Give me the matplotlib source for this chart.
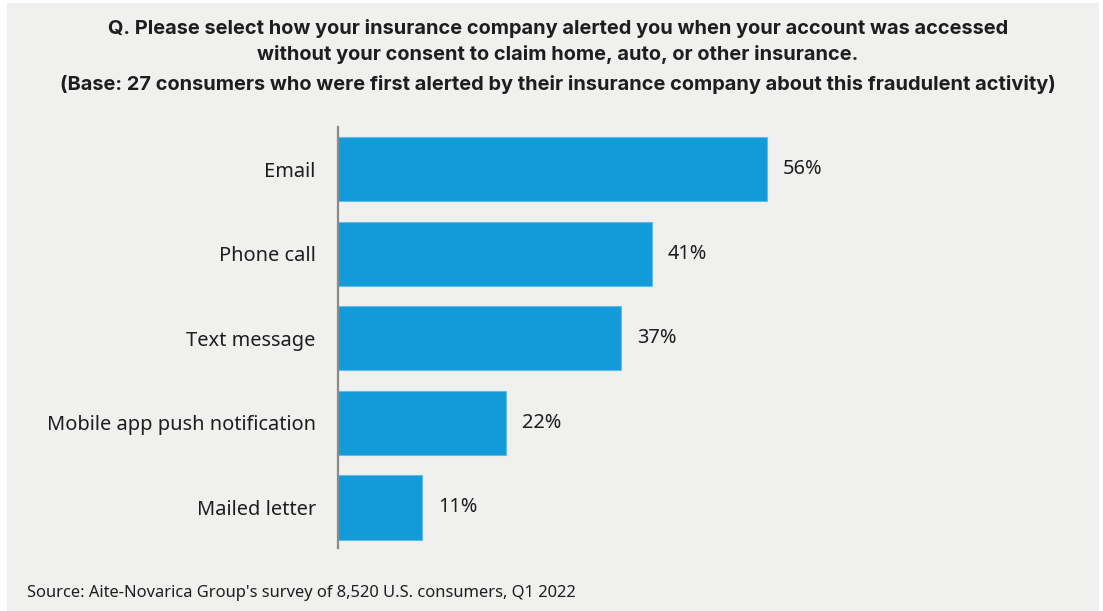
import matplotlib.pyplot as plt
from matplotlib.patches import Rectangle

categories = ['Email', 'Phone call', 'Text message', 'Mobile app push notification', 'Mailed letter']
values = [56, 41, 37, 22, 11]
value_labels = ['56%', '41%', '37%', '22%', '11%']

title_lines = [
    'Q. Please select how your insurance company alerted you when your account was accessed',
    'without your consent to claim home, auto, or other insurance.',
    '(Base: 27 consumers who were first alerted by their insurance company about this fraudulent activity)',
]
source = "Source: Aite-Novarica Group's survey of 8,520 U.S. consumers, Q1 2022"

bg = '#f0f0ef'
bar_color = '#139bd9'
text_color = '#1e1e1e'

plt.rcParams['font.family'] = ['Noto Sans', 'DejaVu Sans']

W, H = 1103, 611
fig = plt.figure(figsize=(W / 100, H / 100), dpi=100, facecolor='white')

# grey panel behind everything
fig.patches.append(Rectangle((7 / W, 0), 1092 / W, 1 - 3 / H, transform=fig.transFigure,
                             facecolor=bg, edgecolor='none', zorder=-10))

ax_left, ax_right = 338, 874
ax_top, ax_bottom = 127, 548
ax = fig.add_axes([ax_left / W, 1 - ax_bottom / H, (ax_right - ax_left) / W, (ax_bottom - ax_top) / H])
ax.set_facecolor('none')

y = list(range(len(categories)))
ax.barh(y, values, height=0.76, color=bar_color, edgecolor='#5fbde8', linewidth=0.8)
ax.set_xlim(0, 70)
ax.set_ylim(4.48, -0.5)

for yi, v, lab in zip(y, values, value_labels):
    ax.annotate(lab, (v, yi), xytext=(16, 0), textcoords='offset pixels',
                va='center', ha='left', fontsize=14.4, color=text_color)

ax.set_yticks(y)
ax.set_yticklabels(categories, fontsize=14.4, color=text_color)
ax.tick_params(axis='y', length=0, pad=16)
ax.set_xticks([])
for s in ['top', 'right', 'bottom']:
    ax.spines[s].set_visible(False)
ax.spines['left'].set_color('#8a8a8a')
ax.spines['left'].set_linewidth(1.6)

for line, ty in zip(title_lines, [28, 55, 84]):
    fig.text(558 / W, 1 - ty / H, line, ha='center', va='center', fontsize=14.4,
             fontweight='bold', color=text_color, family=['Inter', 'DejaVu Sans'])

fig.text(27 / W, 1 - 593 / H, source, ha='left', va='center', fontsize=11.9, color=text_color)

fig.savefig('out.png', dpi=100, facecolor=fig.get_facecolor())
